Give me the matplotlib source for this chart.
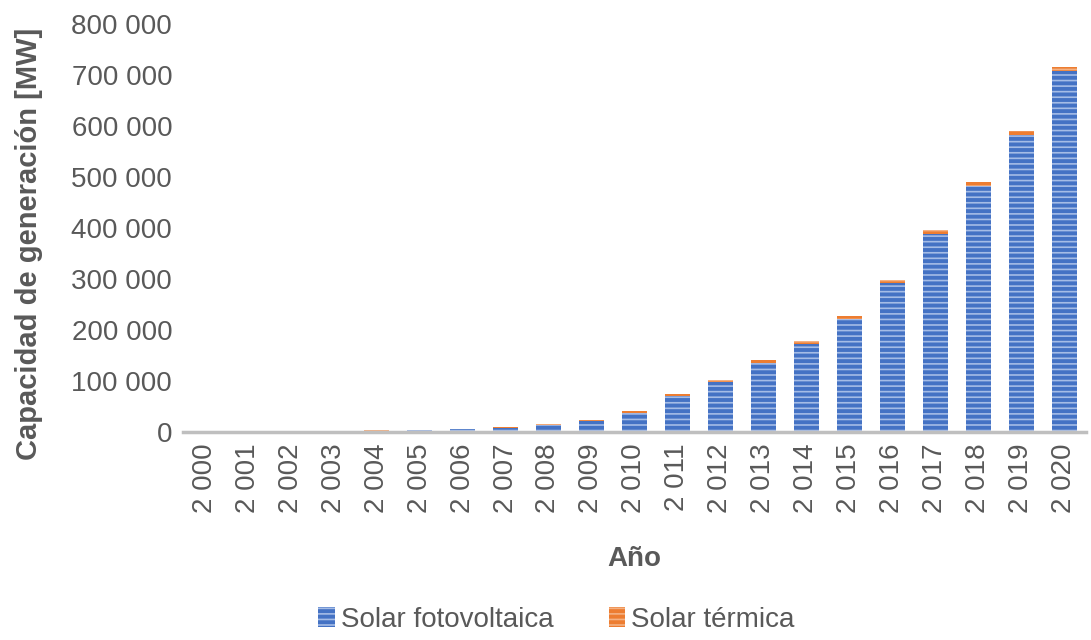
import matplotlib.pyplot as plt
from matplotlib.ticker import FuncFormatter

plt.rcParams['font.family'] = ['Liberation Sans', 'DejaVu Sans']
plt.rcParams['hatch.linewidth'] = 1.2

years = list(range(2000, 2021))
# MW
fotovoltaica = [800, 1100, 1400, 1900, 2700, 3900, 5900, 8500, 14500, 22000, 38000,
                70000, 98000, 135000, 173000, 222000, 292000, 388000, 482000, 582000, 707000]
termica = [300, 300, 300, 300, 300, 500, 600, 800, 1200, 1700, 2500,
           3500, 4500, 5500, 5900, 6200, 6500, 6800, 7000, 7200, 7500]

labels = ['2 {:03d}'.format(y - 2000) for y in years]

fig, ax = plt.subplots(figsize=(10.91, 6.4), dpi=100)
fig.subplots_adjust(left=0.168, right=0.995, top=0.963, bottom=0.325)

x = range(len(years))
ax.bar(x, fotovoltaica, width=0.58, color='#4472C4', edgecolor='#A5BCE6',
       hatch='---', linewidth=0, label='Solar fotovoltaica')
ax.bar(x, termica, width=0.58, bottom=fotovoltaica, color='#ED7D31', edgecolor='#F4B183',
       hatch='---', linewidth=0, label='Solar térmica')

ax.set_ylim(0, 800000)
ax.set_xlim(-0.5, len(years) - 0.5)
ax.set_yticks(range(0, 800001, 100000))
ax.yaxis.set_major_formatter(FuncFormatter(lambda v, p: '{:,.0f}'.format(v).replace(',', ' ')))
ax.set_xticks(list(x))
ax.set_xticklabels(labels, rotation=90)

for s in ['top', 'right', 'left']:
    ax.spines[s].set_visible(False)
ax.spines['bottom'].set_color('#BFBFBF')
ax.spines['bottom'].set_linewidth(2.5)
ax.tick_params(axis='both', length=0, labelsize=20, colors='#595959', pad=8)

ax.set_ylabel('Capacidad de generación [MW]', fontsize=21, fontweight='bold', color='#595959')
ax.yaxis.set_label_coords(-0.155, 0.46)
ax.set_xlabel('Año', fontsize=20, fontweight='bold', color='#595959', labelpad=24)

fig.legend(loc='lower center', bbox_to_anchor=(0.51, -0.028), ncol=2, frameon=False,
           fontsize=20, labelcolor='#595959', handlelength=0.6, handleheight=0.7,
           handletextpad=0.2, columnspacing=2.0)

fig.savefig('out.png', dpi=100)
